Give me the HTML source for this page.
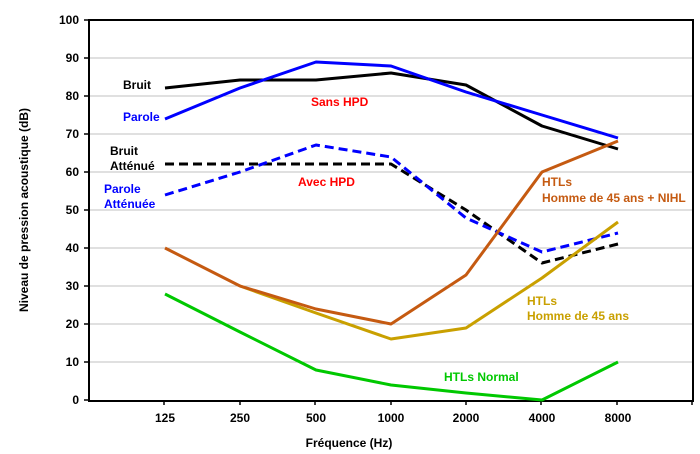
<!DOCTYPE html>
<html><head><meta charset="utf-8"><style>body{margin:0;background:#fff}svg{display:block}text{font-family:"Liberation Sans",Arial,sans-serif;font-weight:bold;font-size:12px}</style></head><body>
<svg width="700" height="454" viewBox="0 0 700 454">
<g stroke="#c0c0c0" stroke-width="1">
<line x1="89" x2="693" y1="58" y2="58"/><line x1="89" x2="693" y1="96" y2="96"/><line x1="89" x2="693" y1="134" y2="134"/><line x1="89" x2="693" y1="172" y2="172"/><line x1="89" x2="693" y1="210" y2="210"/><line x1="89" x2="693" y1="248" y2="248"/><line x1="89" x2="693" y1="286" y2="286"/><line x1="89" x2="693" y1="324" y2="324"/><line x1="89" x2="693" y1="362" y2="362"/>
</g>
<rect x="89" y="20" width="604" height="381" fill="none" stroke="#000" stroke-width="2"/>
<g stroke="#000" stroke-width="1.5">
<line x1="84" x2="89" y1="20" y2="20"/><line x1="84" x2="89" y1="58" y2="58"/><line x1="84" x2="89" y1="96" y2="96"/><line x1="84" x2="89" y1="134" y2="134"/><line x1="84" x2="89" y1="172" y2="172"/><line x1="84" x2="89" y1="210" y2="210"/><line x1="84" x2="89" y1="248" y2="248"/><line x1="84" x2="89" y1="286" y2="286"/><line x1="84" x2="89" y1="324" y2="324"/><line x1="84" x2="89" y1="362" y2="362"/><line x1="84" x2="89" y1="400" y2="400"/>
<line x1="164" x2="164" y1="401" y2="405"/><line x1="240" x2="240" y1="401" y2="405"/><line x1="315" x2="315" y1="401" y2="405"/><line x1="391" x2="391" y1="401" y2="405"/><line x1="466" x2="466" y1="401" y2="405"/><line x1="541" x2="541" y1="401" y2="405"/><line x1="617" x2="617" y1="401" y2="405"/><line x1="692" x2="692" y1="401" y2="405"/>
</g>
<g text-anchor="end">
<text x="79" y="24">100</text><text x="79" y="62">90</text><text x="79" y="100">80</text><text x="79" y="138">70</text><text x="79" y="176">60</text><text x="79" y="214">50</text><text x="79" y="252">40</text><text x="79" y="290">30</text><text x="79" y="328">20</text><text x="79" y="366">10</text><text x="79" y="404">0</text>
</g>
<g text-anchor="middle">
<text x="165" y="422">125</text><text x="240" y="422">250</text><text x="316" y="422">500</text><text x="391" y="422">1000</text><text x="466" y="422">2000</text><text x="542" y="422">4000</text><text x="618" y="422">8000</text>
<text x="349" y="447">Fréquence (Hz)</text>
</g>
<text transform="translate(28,210) rotate(-90)" text-anchor="middle">Niveau de pression acoustique (dB)</text>
<g fill="none" stroke-width="3" stroke-linejoin="round">
<polyline stroke="#000" points="165,88 240,80 316,80 391,73 466,85 542,126 618,149"/>
<polyline stroke="#0000ff" points="165,119 240,88 316,62 391,66 466,92 542,115 618,138"/>
<polyline stroke="#000" stroke-dasharray="9,5" points="165,164 240,164 316,164 391,164 466,210 542,263 618,244"/>
<polyline stroke="#0000ff" stroke-dasharray="9,5" points="165,195 240,172 316,145 391,157 466,218 542,252 618,233"/>
<polyline stroke="#c9a000" points="240,286 316,313 391,339 466,328 542,278 618,222"/>
<polyline stroke="#c55a11" points="165,248 240,286 316,309 391,324 466,275 542,172 618,141"/>
<polyline stroke="#00c800" points="165,294 240,332 316,370 391,385 466,393 542,400 618,362"/>
</g>
<text x="123" y="89" fill="#000">Bruit</text>
<text x="123" y="121" fill="#0000ff">Parole</text>
<text x="110" y="155" fill="#000">Bruit</text>
<text x="110" y="170" fill="#000">Atténué</text>
<text x="104" y="193" fill="#0000ff">Parole</text>
<text x="104" y="208" fill="#0000ff">Atténuée</text>
<text x="311" y="106" fill="#ff0000">Sans HPD</text>
<text x="298" y="186" fill="#ff0000">Avec HPD</text>
<text x="542" y="186" fill="#c55a11">HTLs</text>
<text x="542" y="202" fill="#c55a11">Homme de 45 ans + NIHL</text>
<text x="527" y="305" fill="#c9a000">HTLs</text>
<text x="527" y="320" fill="#c9a000">Homme de 45 ans</text>
<text x="444" y="381" fill="#00c800">HTLs Normal</text>
</svg>
</body></html>
